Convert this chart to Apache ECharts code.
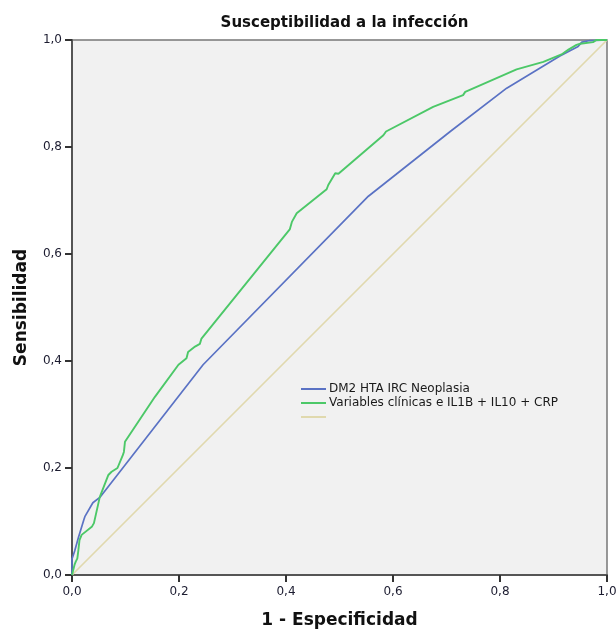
<!DOCTYPE html>
<html>
<head>
<meta charset="utf-8">
<script src="https://cdn.jsdelivr.net/npm/echarts@6/dist/echarts.min.js"></script>
<style>html,body{margin:0;padding:0;background:#fff}#c{width:616px;height:630px}</style>
</head>
<body>
<div id="c"></div>
<script>
const titleText = 'Susceptibilidad a la infección';
const xAxisName = '1 - Especificidad';
const yAxisName = 'Sensibilidad';
const seriesNames = ['DM2 HTA IRC Neoplasia', 'Variables clínicas e IL1B + IL10 + CRP', ' '];

const blueX = [0, 0, 0.005, 0.012, 0.022, 0.024, 0.039, 0.052, 0.245, 0.554, 0.707, 0.8125, 0.912, 0.946, 0.953, 0.968, 1];
const blueY = [0, 0.03, 0.045, 0.07, 0.103, 0.109, 0.135, 0.145, 0.393, 0.708, 0.829, 0.910, 0.970, 0.988, 0.996, 0.999, 1];

const greenX = [0, 0.002, 0.005, 0.007, 0.01, 0.012, 0.014, 0.018, 0.037, 0.041, 0.052, 0.068, 0.074, 0.085, 0.095, 0.097, 0.099, 0.155, 0.199, 0.214, 0.217, 0.23, 0.239, 0.242, 0.407, 0.411, 0.42, 0.476, 0.479, 0.492, 0.498, 0.582, 0.587, 0.675, 0.731, 0.735, 0.831, 0.881, 0.915, 0.928, 0.943, 0.95, 0.974, 0.98, 1];
const greenY = [0, 0.003, 0.02, 0.025, 0.031, 0.047, 0.065, 0.075, 0.09, 0.097, 0.146, 0.187, 0.193, 0.2, 0.224, 0.23, 0.249, 0.333, 0.393, 0.405, 0.417, 0.427, 0.432, 0.442, 0.646, 0.66, 0.676, 0.721, 0.729, 0.751, 0.75, 0.822, 0.829, 0.875, 0.897, 0.903, 0.945, 0.959, 0.973, 0.982, 0.991, 0.993, 0.996, 1.0, 1];

const refX = [0, 1];
const refY = [0, 1];

const tickValues = [0, 0.2, 0.4, 0.6, 0.8, 1.0];

function zip(xs, ys) { return xs.map((x, i) => [x, ys[i]]); }
const fmt = v => v.toFixed(1).replace('.', ',');

const chart = echarts.init(document.getElementById('c'), null, {renderer: 'canvas'});
const axisCommon = {
  type: 'value', min: 0, max: 1, interval: 0.2,
  nameLocation: 'middle',
  nameTextStyle: {fontFamily: 'DejaVu Sans', fontWeight: 'bold', fontSize: 17, color: '#111'},
  axisLine: {show: true, onZero: false, lineStyle: {color: '#555', width: 2}},
  axisTick: {show: true, length: 7, lineStyle: {color: '#333', width: 2}},
  axisLabel: {formatter: fmt, fontFamily: 'DejaVu Sans', fontSize: 12, color: '#1c1c30'},
  splitLine: {show: false}
};
chart.setOption({
  animation: false,
  backgroundColor: '#fff',
  title: {
    text: titleText, left: 339.5, top: 11, textAlign: 'center',
    textStyle: {fontFamily: 'DejaVu Sans', fontWeight: 'bold', fontSize: 15, color: '#111'}
  },
  grid: {left: 72, right: 9, top: 40, bottom: 55, containLabel: false, outerBoundsMode: 'none',
    show: true, backgroundColor: '#f1f1f1', borderColor: '#777', borderWidth: 1.5},
  xAxis: Object.assign({}, axisCommon, {name: xAxisName, nameGap: 37,
    axisLabel: Object.assign({}, axisCommon.axisLabel, {margin: 11})}),
  yAxis: Object.assign({}, axisCommon, {name: yAxisName, nameGap: 42,
    axisLabel: Object.assign({}, axisCommon.axisLabel, {margin: 10})}),
  legend: {
    orient: 'vertical', left: 296, top: 378,
    data: seriesNames, icon: 'rect', itemWidth: 25, itemHeight: 2, itemGap: 2,
    textStyle: {fontFamily: 'DejaVu Sans', fontSize: 12, color: '#1a1a1a', padding: [0, 0, 0, -2]},
    selectedMode: false
  },
  series: [
    {name: seriesNames[0], type: 'line', data: zip(blueX, blueY), showSymbol: false, lineStyle: {color: '#5a72c4', width: 1.7}, itemStyle: {color: '#5a72c4'}, z: 3},
    {name: seriesNames[1], type: 'line', data: zip(greenX, greenY), showSymbol: false, lineStyle: {color: '#4cc868', width: 1.9}, itemStyle: {color: '#4cc868'}, z: 4},
    {name: seriesNames[2], type: 'line', data: zip(refX, refY), showSymbol: false, lineStyle: {color: '#e0d9ae', width: 1.7}, itemStyle: {color: '#e0d9ae'}, z: 2}
  ]
});
</script>
</body>
</html>
